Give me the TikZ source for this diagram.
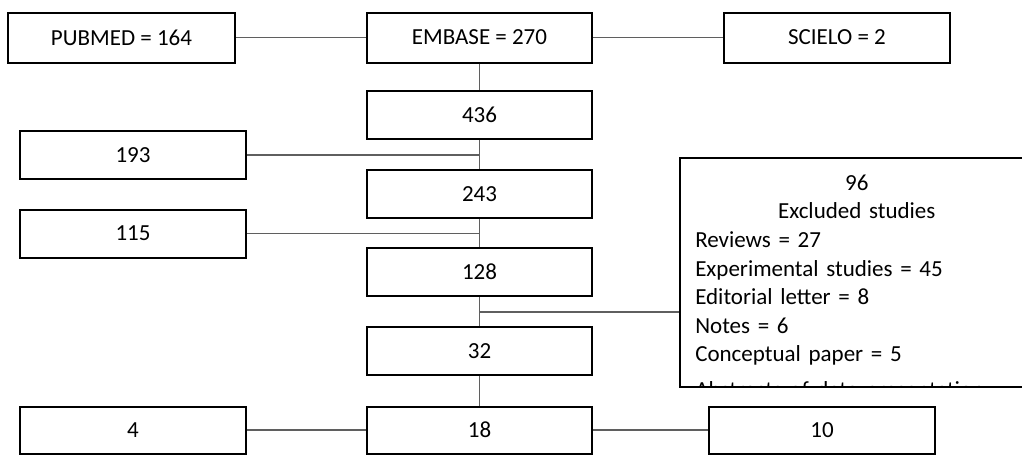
\documentclass[tikz,border=0pt]{standalone}
\usepackage{fontspec}
\setmainfont{Carlito}
\definecolor{conncol}{RGB}{95,95,95}
\newcommand{\exclbody}{\setlength{\parindent}{0pt}%
{\centering 96\\Excluded studies\par}%
Reviews = 27\\
Experimental studies = 45\\
Editorial letter = 8\\
Notes = 6\\
Conceptual paper = 5\\[5.5pt]
Abstracts of data presentation = 5}
\begin{document}
\begin{tikzpicture}[x=0.75pt,y=-0.75pt,
  txt/.style={font=\fontsize{17.25pt}{21.45pt}\selectfont},
  box/.style={txt, draw=black, line width=1.5pt, inner sep=0pt},
  bw/.style={minimum width=#1*0.75pt},
  bh/.style={minimum height=#1*0.75pt},
  conn/.style={draw=conncol, line width=0.85pt}]
\clip (0,0) rectangle (1022,455);
\fill[white] (0,0) rectangle (1022,455);
% top row
\node[box, bw=227, bh=50] (pub) at (121.5,37.5) {PUBMED = 164};
\node[box, bw=225, bh=50] (emb) at (479.5,37.5) {EMBASE = 270};
\node[box, bw=226, bh=50] (sci) at (837,37.5) {SCIELO = 2};
% trunk
\node[box, bw=225, bh=48] (n436) at (479.5,115) {436};
\node[box, bw=226, bh=48] (n193) at (133,155) {193};
\node[box, bw=225, bh=48] (n243) at (479.5,194) {243};
\node[box, bw=226, bh=48] (n115) at (133,233.5) {115};
\node[box, bw=225, bh=48] (n128) at (479.5,272) {128};
\node[box, bw=225, bh=48] (n32) at (479.5,351) {32};
% bottom row
\node[box, bw=226, bh=47] (n4) at (133,430) {4};
\node[box, bw=225, bh=47] (n18) at (479.5,430) {18};
\node[box, bw=226, bh=47] (n10) at (822,430) {10};
% excluded box
\node[box, bw=354, bh=229] (excl) at (856.5,272.2) {};
\begin{scope}
  \clip (681,159) rectangle (1030,385.5);
  \node[txt, anchor=north west, inner sep=0pt, text width=242.25pt, align=left]
    (excltext) at (695,174.4) {\exclbody};
\end{scope}
% connectors
\draw[conn] (pub) -- (emb);
\draw[conn] (emb) -- (sci);
\draw[conn] (emb) -- (n436);
\draw[conn] (n436) -- (n243);
\draw[conn] (n243) -- (n128);
\draw[conn] (n128) -- (n32);
\draw[conn] (n32) -- (n18);
\draw[conn] (n193) -- (n193 -| n436);
\draw[conn] (n115) -- (n115 -| n243);
\coordinate (j) at (479.5,312);
\draw[conn] (j) -- (j -| excl.west);
\draw[conn] (n4) -- (n18);
\draw[conn] (n18) -- (n10);
\end{tikzpicture}
\end{document}
